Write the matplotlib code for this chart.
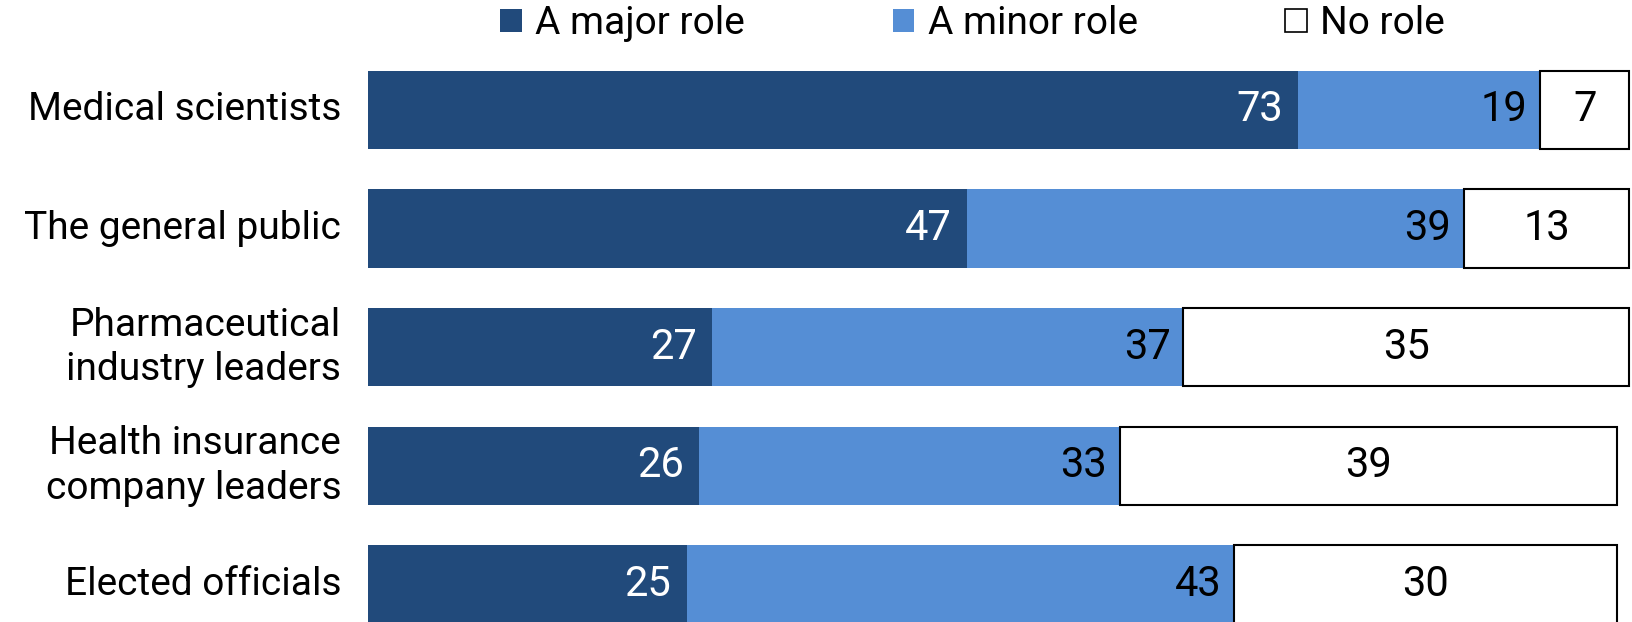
import numpy as np
import matplotlib.pyplot as plt
from matplotlib.patches import Patch

plt.rcParams['font.family'] = ['Roboto', 'DejaVu Sans']

groups = ['Medical scientists', 'The general public', 'Pharmaceutical\nindustry leaders',
          'Health insurance\ncompany leaders', 'Elected officials']
major = [73, 47, 27, 26, 25]
minor = [19, 39, 37, 33, 43]
norole = [7, 13, 35, 39, 30]
series_names = ['A major role', 'A minor role', 'No role']

c_major = '#214a7b'
c_minor = '#558ed5'

W, H = 1632, 622
fig = plt.figure(figsize=(W / 100, H / 100), dpi=100)
left_px = 368
ax = fig.add_axes([left_px / W, 0, 1 - left_px / W, 1])
ppu = 12.74  # pixels per percent
ax.set_xlim(0, (W - left_px) / ppu)
step = 118.7
ax.set_ylim((H - 109.8) / step, -109.8 / step)
ax.axis('off')

y = np.arange(len(groups))
major = np.array(major)
minor = np.array(minor)
norole = np.array(norole)
h = 0.66
ax.barh(y, major, height=h, color=c_major, edgecolor='none')
ax.barh(y, minor, left=major, height=h, color=c_minor, edgecolor='none')
ax.barh(y, norole, left=major + minor, height=h, color='white', edgecolor='black', linewidth=1.5)

fs = 28
nfs = 30
for i in range(len(groups)):
    ax.text(major[i] - 1.2, y[i], str(major[i]), ha='right', va='center', color='white', fontsize=nfs)
    ax.text(major[i] + minor[i] - 1.0, y[i], str(minor[i]), ha='right', va='center', color='black', fontsize=nfs)
    ax.text(major[i] + minor[i] + norole[i] / 2, y[i], str(norole[i]), ha='center', va='center',
            color='black', fontsize=nfs)
    ax.text(-2.1, y[i], groups[i], ha='right', va='center', fontsize=fs, linespacing=1.25,
            clip_on=False)

handles = [Patch(facecolor=c_major, edgecolor='none'),
           Patch(facecolor=c_minor, edgecolor='none'),
           Patch(facecolor='white', edgecolor='black', linewidth=1.2)]
fig.legend(handles, series_names, loc='center', bbox_to_anchor=(0.596, 0.962), ncol=3,
           frameon=False, fontsize=fs, handlelength=0.55, handleheight=0.55,
           handletextpad=0.35, columnspacing=3.8, borderaxespad=0)

fig.savefig('out.png', dpi=100)
